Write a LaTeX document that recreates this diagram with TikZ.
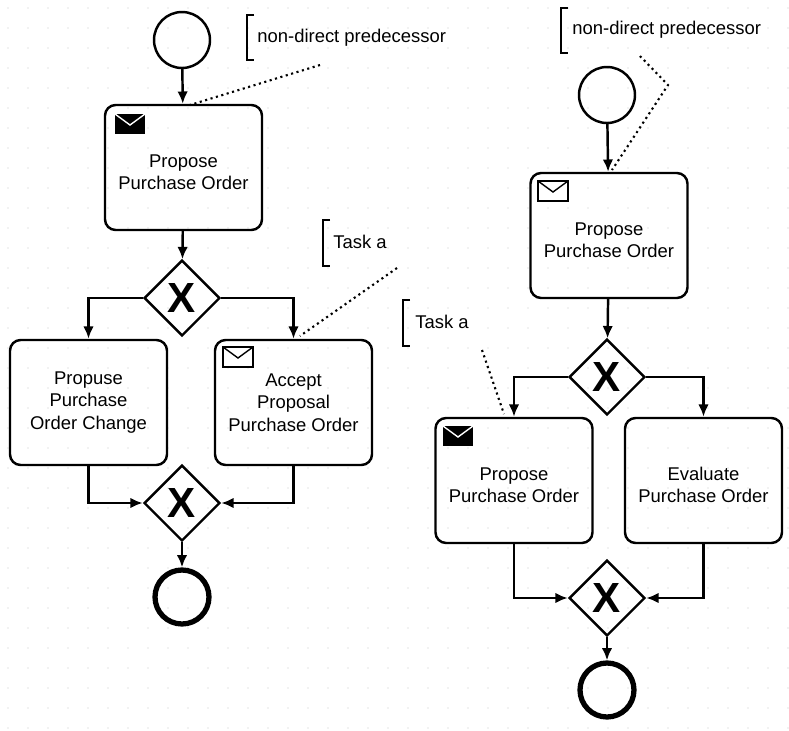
\documentclass[tikz,border=0pt]{standalone}
\usepackage{fontspec}
\setmainfont{Liberation Sans}
\usetikzlibrary{shapes.geometric,arrows.meta}
\begin{document}
\begin{tikzpicture}[x=0.02cm,y=-0.02cm,
  task/.style={draw,line width=1.4pt,rounded corners=6pt,minimum width=3.14cm,minimum height=2.5cm,align=center,font=\fontsize{10.5}{12.8}\selectfont,inner sep=1pt},
  gw/.style={draw,diamond,line width=1.4pt,minimum width=1.52cm,minimum height=1.52cm,inner sep=0pt,font=\fontsize{24}{24}\selectfont\bfseries},
  startev/.style={draw,circle,line width=1.4pt,minimum size=1.12cm},
  endev/.style={draw,circle,line width=3pt,minimum size=1.08cm},
  flow/.style={line width=1.4pt,-{Latex[length=7pt,width=6pt]}},
  ann/.style={dotted,line width=1.2pt},
  lbl/.style={anchor=west,font=\fontsize{10.5}{12.5}\selectfont,inner sep=0pt},
  br/.style={line width=1.2pt}]
\useasboundingbox (0,0) rectangle (789,731);
\foreach \i in {0,...,39}{\foreach \j in {0,...,36}{\fill[black!22] (\i*20+8,\j*20+8) circle (0.4pt);}}
\newcommand{\wenv}[2]{\draw[line width=0.8pt,fill=white] (#1-15,#2-10) rectangle (#1+15,#2+10); \draw[line width=0.8pt] (#1-15,#2-10) -- (#1,#2+1) -- (#1+15,#2-10);}
\newcommand{\benv}[2]{\fill (#1-15,#2-10) rectangle (#1+15,#2+10); \draw[white,line width=0.8pt] (#1-15,#2-10) -- (#1,#2+1) -- (#1+15,#2-10);}
% left
\node[startev] (s1) at (182,40) {};
\node[task] (t1) at (183.5,167.5) {\\Propose\\Purchase Order};
\benv{130}{124}
\node[gw] (g1) at (182,298) {X};
\node[task] (t2) at (88.5,402.5) {Propuse\\Purchase\\Order Change};
\node[task] (t3) at (293.5,402.5) {Accept\\Proposal\\Purchase Order};
\wenv{238}{357}
\node[gw] (g2) at (182,503) {X};
\node[endev] (e1) at (182,597) {};
\draw[flow] (s1) -- (t1);
\draw[flow] (t1) -- (g1);
\draw[flow] (g1.west) -| (t2.north);
\draw[flow] (g1.east) -| (t3.north);
\draw[flow] (t2.south) |- (g2.west);
\draw[flow] (t3.south) |- (g2.east);
\draw[flow] (g2) -- (e1);
\draw[br] (254,15) -- (247,15) -- (247,60) -- (254,60);
\node[lbl] (a1) at (257,38) {non-direct predecessor};
\coordinate (a1e) at (320,65);
\draw[ann] (a1e) -- (190,105);
\draw[br] (330,220) -- (323,220) -- (323,266) -- (330,266);
\node[lbl] (a2) at (333,242) {Task a};
\coordinate (a2e) at (397,268);
\draw[ann] (a2e) -- (300,336);
% right
\node[startev] (s2) at (607,95) {};
\node[task] (t4) at (609,235.5) {\\Propose\\Purchase Order};
\wenv{553}{191}
\node[gw] (g3) at (607,377) {X};
\node[task] (t5) at (514,480.5) {\\Propose\\Purchase Order};
\benv{458}{436}
\node[task] (t6) at (703.5,480.5) {\\Evaluate\\Purchase Order};
\node[gw] (g4) at (607,598) {X};
\node[endev] (e2) at (607,690) {};
\draw[flow] (s2) -- (t4);
\draw[flow] (t4) -- (g3);
\draw[flow] (g3.west) -| (t5.north);
\draw[flow] (g3.east) -| (t6.north);
\draw[flow] (t5.south) |- (g4.west);
\draw[flow] (t6.south) |- (g4.east);
\draw[flow] (g4) -- (e2);
\draw[br] (568,8) -- (561,8) -- (561,53) -- (568,53);
\node[lbl] (a3) at (572,30) {non-direct predecessor};
\draw[ann] (640,56) -- (668,85) -- (612,170);
\draw[br] (410,300) -- (403,300) -- (403,346) -- (410,346);
\node[lbl] (a4) at (415,322) {Task a};
\draw[ann] (482,350) -- (504,414);
\end{tikzpicture}
\end{document}
